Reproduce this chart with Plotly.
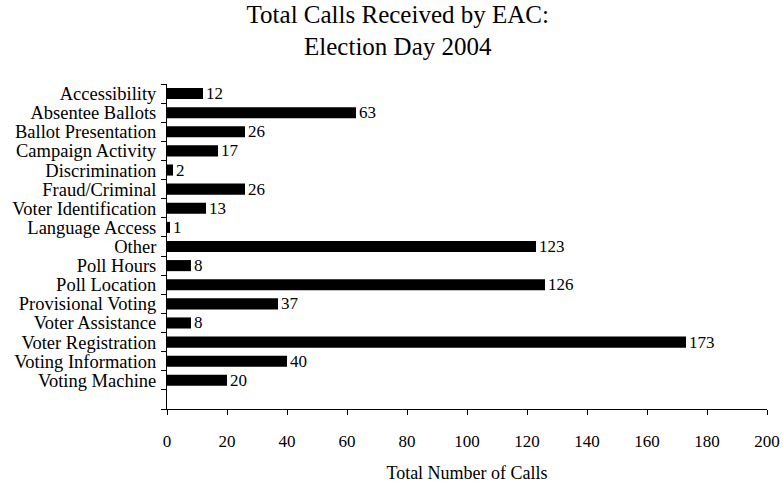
import plotly.graph_objects as go

categories = ["Accessibility", "Absentee Ballots", "Ballot Presentation", "Campaign Activity",
              "Discrimination", "Fraud/Criminal", "Voter Identification", "Language Access",
              "Other", "Poll Hours", "Poll Location", "Provisional Voting", "Voter Assistance",
              "Voter Registration", "Voting Information", "Voting Machine"]
calls = [12, 63, 26, 17, 2, 26, 13, 1, 123, 8, 126, 37, 8, 173, 40, 20]
x_ticks = [0, 20, 40, 60, 80, 100, 120, 140, 160, 180, 200]

positions = list(range(len(categories)))
boundaries = [p - 0.5 for p in range(len(categories) + 2)]

FONT = "Liberation Serif, Times New Roman, serif"

fig = go.Figure(go.Bar(
    x=calls, y=positions, orientation="h", width=0.58,
    marker=dict(color="black", line=dict(width=0)),
    text=[str(v) for v in calls], textposition="outside",
    constraintext="none",
    textfont=dict(family=FONT, size=17, color="black"),
    cliponaxis=False,
))

fig.update_layout(
    width=783, height=483,
    margin=dict(l=167, r=16, t=84, b=74, autoexpand=False),
    paper_bgcolor="white", plot_bgcolor="white",
    font=dict(family=FONT, color="black"),
    showlegend=False,
    title=dict(text="Total Calls Received by EAC:<br>Election Day 2004",
               x=0.508, xanchor="center", y=0.953, yanchor="middle",
               font=dict(family=FONT, size=25, color="black")),
    xaxis=dict(range=[0, 200], tickvals=x_ticks, ticks="outside", ticklen=5,
               tickcolor="black", showline=True, linecolor="black", linewidth=1,
               showgrid=False, zeroline=False, automargin=False,
               tickfont=dict(family=FONT, size=17, color="black"),
               ticklabelstandoff=12,
               title=dict(text="Total Number of Calls", standoff=15,
                          font=dict(family=FONT, size=18, color="black"))),
    yaxis=dict(range=[len(categories) + 0.5, -0.5], tickmode="array",
               tickvals=positions, ticktext=categories, ticks="",
               showline=True, linecolor="black", linewidth=1,
               showgrid=False, zeroline=False, ticklabelstandoff=6, automargin=False,
               tickfont=dict(family=FONT, size=18.5, color="black"),
               minor=dict(tickmode="array", tickvals=boundaries, ticks="outside",
                          ticklen=5, tickcolor="black", showgrid=False)),
)

fig.write_html("out.html", config={"displayModeBar": False},
               post_script="document.body.style.margin='0';")
